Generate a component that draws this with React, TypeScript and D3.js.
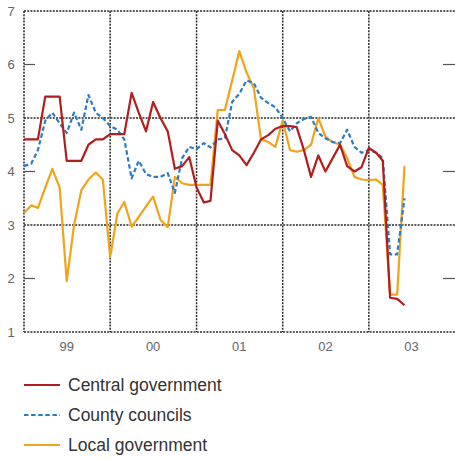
import React from "react";
import * as d3 from "d3";

const months: Date[] = d3.timeMonth.range(new Date(1999, 0, 1), new Date(2003, 6, 1));

const central: number[] = [
  4.6, 4.6, 4.6, 5.4, 5.4, 5.4, 4.2, 4.2, 4.2, 4.5, 4.6, 4.6,
  4.7, 4.7, 4.7, 5.47, 5.1, 4.75, 5.3, 5.0, 4.75, 4.05, 4.1, 4.27,
  3.7, 3.42, 3.45, 4.95, 4.7, 4.4, 4.3, 4.12, 4.35, 4.6, 4.68, 4.8,
  4.85, 4.85, 4.83, 4.4, 3.9, 4.3, 4.0, 4.25, 4.5, 4.1, 4.0, 4.08,
  4.44, 4.35, 4.2, 1.64, 1.62, 1.5,
];

const county: number[] = [
  4.1, 4.15, 4.4, 4.95, 5.1, 4.9, 4.72, 5.1, 4.78, 5.43, 5.1, 5.0,
  4.85, 4.78, 4.6, 3.87, 4.2, 3.95, 3.9, 3.9, 3.97, 3.6, 4.25, 4.46,
  4.42, 4.53, 4.45, 4.6, 4.62, 5.3, 5.45, 5.7, 5.65, 5.38, 5.28, 5.2,
  5.0, 4.75, 4.9, 4.98, 5.02, 4.72, 4.62, 4.55, 4.53, 4.78, 4.46, 4.35,
  4.4, 4.35, 4.25, 2.45, 2.45, 3.5,
];

const local: number[] = [
  3.22, 3.37, 3.32, 3.7, 4.05, 3.7, 1.95, 3.0, 3.65, 3.85, 3.98, 3.85,
  2.4, 3.22, 3.43, 2.97, 3.15, 3.35, 3.53, 3.1, 2.96, 3.9, 3.78, 3.75,
  3.75, 3.75, 3.75, 5.15, 5.15, 5.7, 6.25, 5.85, 5.55, 4.6, 4.55, 4.46,
  4.95, 4.4, 4.37, 4.4, 4.5, 5.0, 4.65, 4.55, 4.5, 4.25, 3.9, 3.85,
  3.84, 3.85, 3.75, 1.7, 1.7, 4.1,
];

const yTickLabels: number[] = [1, 2, 3, 4, 5, 6, 7];
const gridValues: number[] = [3, 5];
const tickMarkValues: number[] = [2, 4, 6];
const yearStarts: Date[] = [2000, 2001, 2002, 2003].map((y) => new Date(y, 0, 1));
const yearLabels: string[] = ["99", "00", "01", "02", "03"];
const yearMids: Date[] = [1999, 2000, 2001, 2002, 2003].map((y) => new Date(y, 6, 1));

const seriesNames: string[] = ["Central government", "County councils", "Local government"];
const seriesColors: string[] = ["#b01e1e", "#2a7cc4", "#f2a31c"];
const seriesDash: (string | undefined)[] = [undefined, "4.5,2.6", undefined];
const seriesData: number[][] = [central, county, local];

const W = 455;
const H = 458;
const left = 24;
const right = 455;
const top = 11;
const bottom = 332;

export default function App() {
  const x = d3.scaleTime().domain([new Date(1999, 0, 1), new Date(2004, 0, 1)]).range([left, right]);
  const y = d3.scaleLinear().domain([1, 7]).range([bottom, top]);
  const line = d3
    .line<number>()
    .x((_, i) => x(months[i]))
    .y((d) => y(d))
    .curve(d3.curveLinear);

  const gridStroke = "#2a2a2a";
  const gridDash = "2,1.2";
  const font = "'Liberation Sans', Arial, sans-serif";

  const order = [2, 1, 0];

  return (
    <svg width={W} height={H} style={{ position: "absolute", left: 0, top: 0, background: "#fff" }}>
      <rect x={0} y={0} width={W} height={H} fill="#fff" />
      <line x1={left} x2={right} y1={top} y2={top} stroke={gridStroke} strokeWidth={1.5} strokeDasharray={gridDash} />
      <line x1={left} x2={right} y1={bottom} y2={bottom} stroke={gridStroke} strokeWidth={1.5} strokeDasharray={gridDash} />
      <line x1={left} x2={left} y1={top} y2={bottom} stroke={gridStroke} strokeWidth={1.5} strokeDasharray={gridDash} />
      {gridValues.map((v) => (
        <line key={"g" + v} x1={left} x2={right} y1={y(v)} y2={y(v)} stroke={gridStroke} strokeWidth={1.5} strokeDasharray={gridDash} />
      ))}
      {yearStarts.map((d, i) => (
        <line key={"v" + i} x1={x(d)} x2={x(d)} y1={top} y2={bottom} stroke={gridStroke} strokeWidth={1.5} strokeDasharray={gridDash} />
      ))}
      {tickMarkValues.map((v) => (
        <g key={"t" + v}>
          <line x1={left} x2={left + 11} y1={y(v)} y2={y(v)} stroke="#555" strokeWidth={1.2} />
          <line x1={right - 12} x2={right} y1={y(v)} y2={y(v)} stroke="#555" strokeWidth={1.2} />
        </g>
      ))}
      {yTickLabels.map((v) => (
        <text key={"yl" + v} x={11} y={y(v)} dy="0.35em" textAnchor="middle" fontFamily={font} fontSize={13} fill="#666">
          {v}
        </text>
      ))}
      {yearLabels.map((s, i) => (
        <text key={"xl" + i} x={x(yearMids[i])} y={346} dy="0.35em" textAnchor="middle" fontFamily={font} fontSize={13} fill="#666">
          {s}
        </text>
      ))}
      {order.map((k) => (
        <path
          key={"s" + k}
          d={line(seriesData[k]) || ""}
          fill="none"
          stroke={seriesColors[k]}
          strokeWidth={2.2}
          strokeDasharray={seriesDash[k]}
          strokeLinejoin="round"
        />
      ))}
      {seriesNames.map((name, i) => {
        const ly = 385 + i * 30;
        return (
          <g key={"lg" + i}>
            <line x1={24} x2={60} y1={ly} y2={ly} stroke={seriesColors[i]} strokeWidth={2.2} strokeDasharray={seriesDash[i]} />
            <text x={68} y={ly} dy="0.35em" fontFamily={font} fontSize={17.5} fill="#333">
              {name}
            </text>
          </g>
        );
      })}
    </svg>
  );
}
